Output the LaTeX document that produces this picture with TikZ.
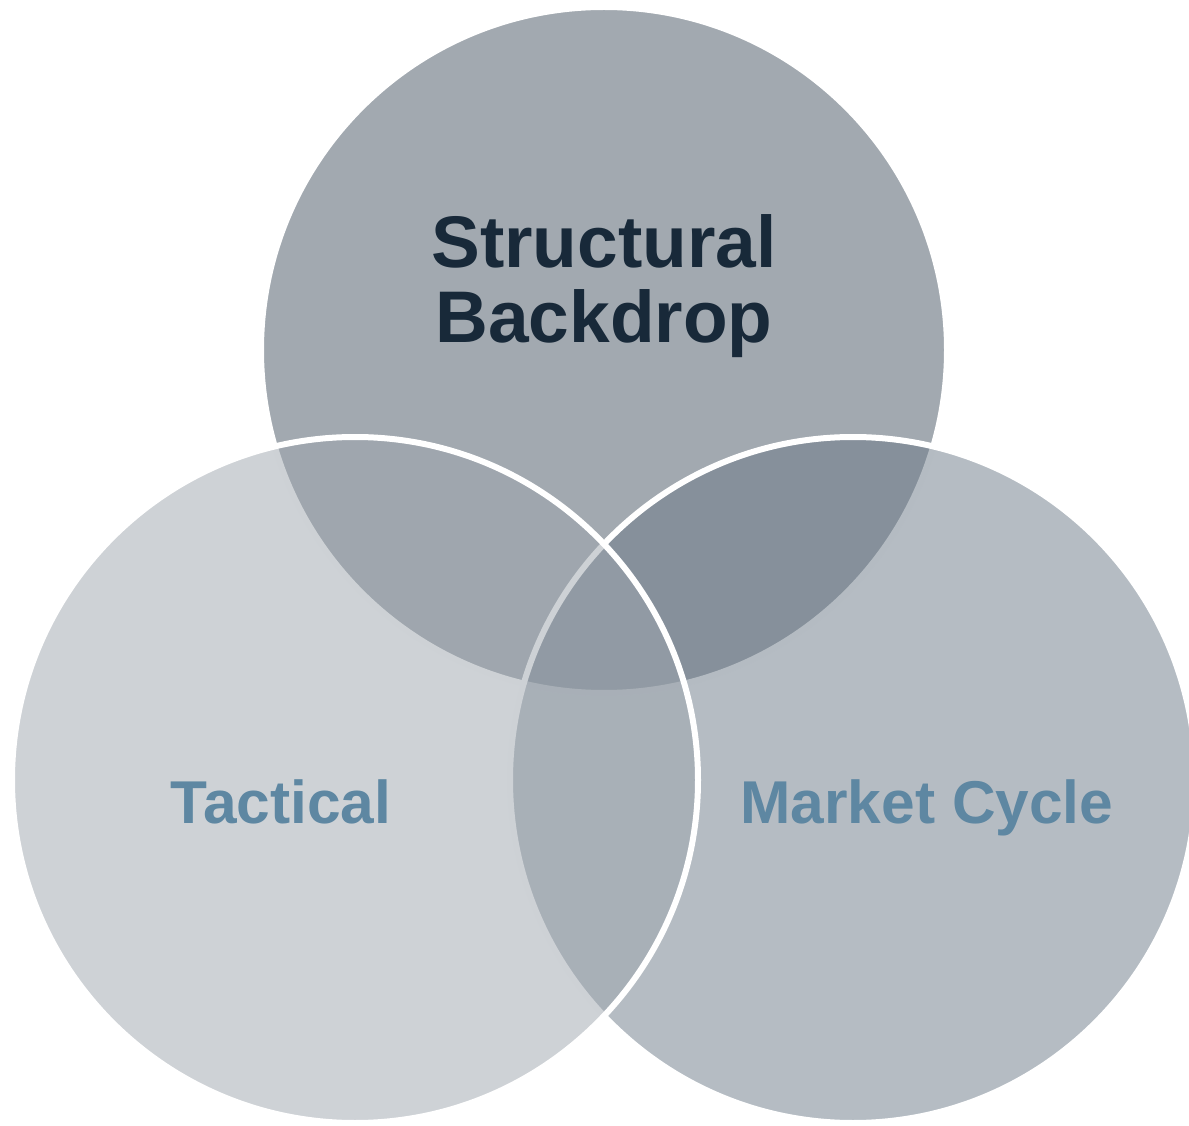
\documentclass[tikz,border=0pt]{standalone}
\usepackage{fontspec}
\setmainfont{Liberation Sans}
\definecolor{topgray}{RGB}{162,169,176}
\definecolor{rightgray}{RGB}{107,121,135}
\definecolor{leftgray}{RGB}{157,165,173}
\definecolor{navytext}{RGB}{24,41,57}
\definecolor{steeltext}{RGB}{94,135,162}
\begin{document}
\begin{tikzpicture}[
    ring/.style={draw=white, line width=0.06cm},
    title/.style={font=\bfseries\fontsize{20.8pt}{21.6pt}\selectfont, text=navytext, align=center, inner sep=0pt},
    side/.style={font=\bfseries\fontsize{17.2pt}{20pt}\selectfont, text=steeltext, inner sep=0pt}
  ]
    \useasboundingbox (0,0) rectangle (11.89,11.25);
    \clip (0,0) rectangle (11.89,11.25);

    % Three circles: top, right, left
    \filldraw[ring, fill=topgray] (6.04,7.75) circle (3.43);
    \filldraw[ring, fill=rightgray, fill opacity=0.5] (8.53,3.45) circle (3.43);
    \filldraw[ring, fill=leftgray, fill opacity=0.5] (3.55,3.45) circle (3.43);

    % Labels
    \node[title, anchor=base] (structural) at (6.04,7.82) {Structural\\Backdrop};
    \node[side, anchor=base] (tactical) at (2.81,3.02) {Tactical};
    \node[side, anchor=base] (cycle) at (9.27,3.02) {Market Cycle};
\end{tikzpicture}
\end{document}
